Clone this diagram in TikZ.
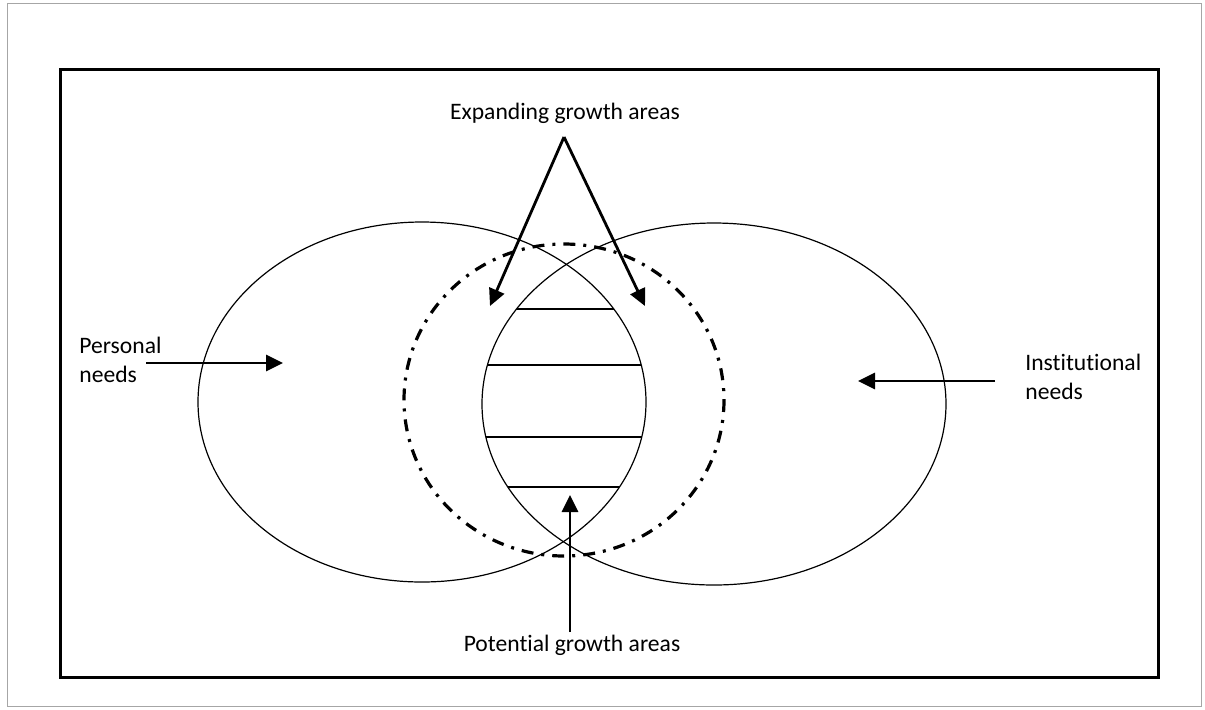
\documentclass[tikz,border=0pt]{standalone}
\usepackage{fontspec}
\setmainfont{Carlito}[Ligatures=NoCommon]
\usetikzlibrary{arrows.meta,positioning}

\begin{document}
\begin{tikzpicture}[
    x=0.5pt, y=-0.5pt,
    label/.style={font=\fontsize{11.8}{14.5}\selectfont, align=left, inner sep=0pt},
    arrow/.style={-{Triangle[length=8.5pt,width=8pt]}, line width=1.4pt},
    need/.style={line width=0.6pt},
    growth/.style={line width=1.6pt, dash pattern=on 6pt off 4pt on 1.5pt off 4pt},
    hatch/.style={line width=1pt}
]
\useasboundingbox (0,0) rectangle (1205,709);

% frames
\draw[gray!70, line width=0.5pt] (7,3) rectangle (1201,706);
\draw[line width=1.5pt] (60,69) rectangle (1158,677);

% needs ellipses
\draw[need] (422,402) ellipse [x radius=224, y radius=180];
\draw[need] (714,404) ellipse [x radius=232, y radius=181];

% overlap lines
\begin{scope}
    \clip (422,402) ellipse [x radius=224, y radius=180];
    \clip (714,404) ellipse [x radius=232, y radius=181];
    \foreach \y in {309,365,437,487}
        \draw[hatch] (440,\y) -- (700,\y);
\end{scope}

% expanding area
\draw[growth] (564,400) ellipse [x radius=160, y radius=156];

% labels
\node[label] (expand) at (565,113) {Expanding growth areas};
\node[label] (potential) at (572,645) {Potential growth areas};
\node[label, anchor=west] (personal) at (79,360) {Personal\\needs};
\node[label, anchor=west] (institutional) at (1025,377) {Institutional\\needs};

\coordinate (apex) at (564,137);
\coordinate (lefttip) at (490,306);
\coordinate (righttip) at (645,306);
\coordinate (potstart) at (570,632);
\coordinate (pottip) at (570,495);
\coordinate (perstart) at (146,363);
\coordinate (pertip) at (283,363);
\coordinate (insstart) at (995,381);
\coordinate (instip) at (858,381);

\draw[arrow] (apex) -- (lefttip);
\draw[arrow] (apex) -- (righttip);
\draw[arrow] (potstart) -- (pottip);
\draw[arrow] (perstart) -- (pertip);
\draw[arrow] (insstart) -- (instip);

\end{tikzpicture}
\end{document}
